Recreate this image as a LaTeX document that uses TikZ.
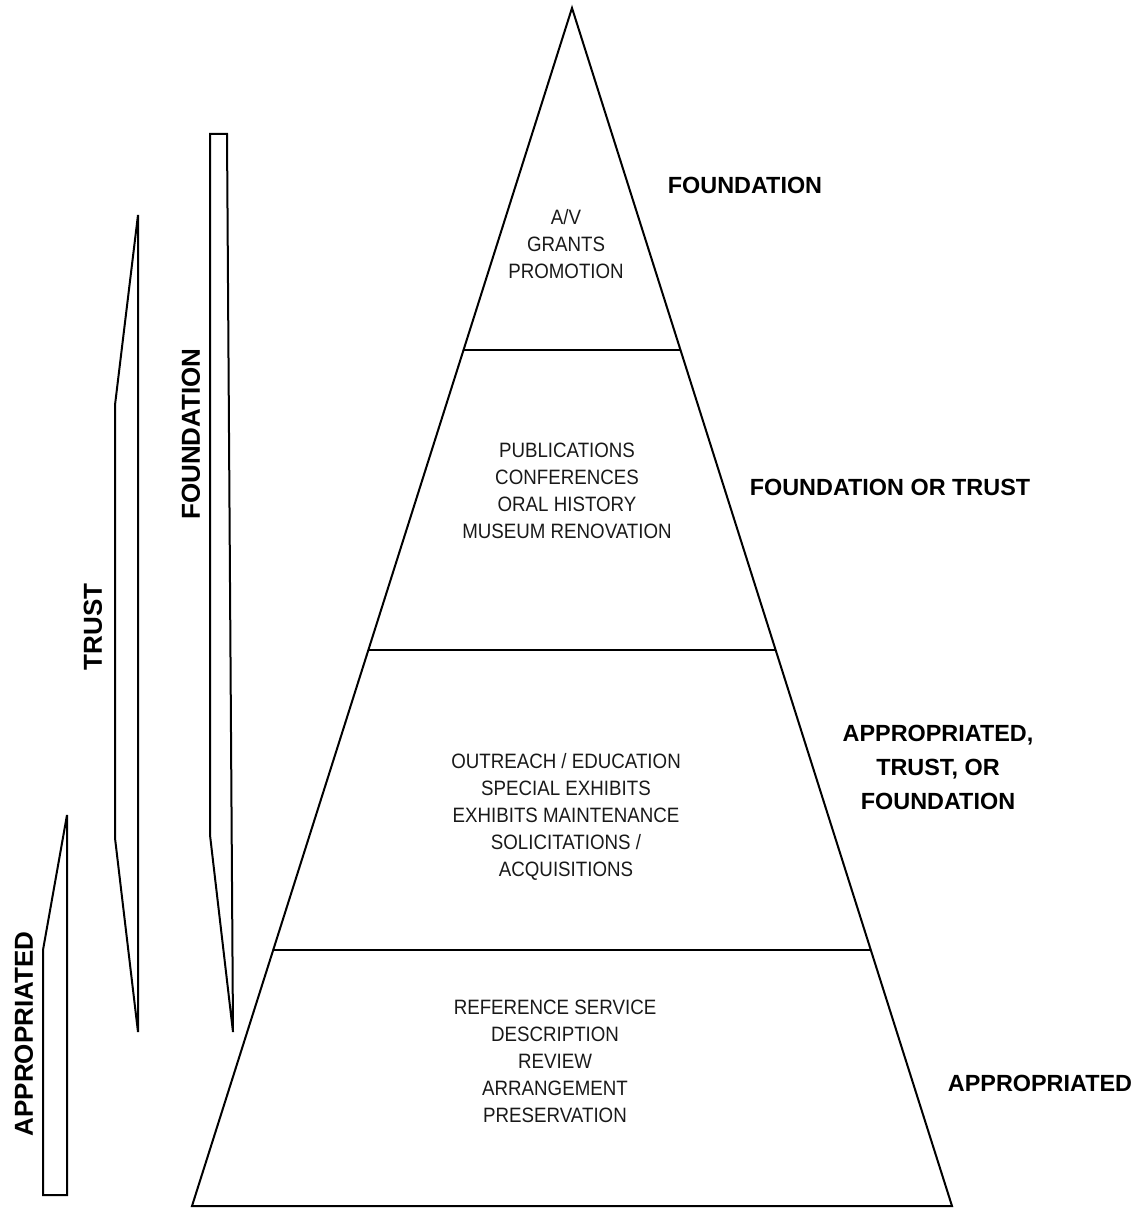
\documentclass[tikz,border=0pt]{standalone}
\usepackage{fontspec}
\setmainfont{Liberation Sans}

\begin{document}
\begin{tikzpicture}[x=0.5pt, y=-0.5pt, line width=1pt,
  tier/.style={font=\fontsize{10.4}{13.5}\selectfont, align=center, text=black!90, xscale=0.9},
  src/.style={font=\bfseries\fontsize{11.7}{17}\selectfont, align=center},
  barlabel/.style={font=\bfseries\fontsize{13}{15}\selectfont, rotate=90}]
\useasboundingbox (0,0) rectangle (1141,1208);
% pyramid
\draw (572,8) -- (952,1206) -- (192,1206) -- cycle;
\draw (463.5,350) -- (680.5,350);
\draw (368.4,650) -- (775.6,650);
\draw (273.2,950) -- (870.8,950);
% tier contents
\node[tier] (top) at (566,244) {A/V\\GRANTS\\PROMOTION};
\node[tier] (upper) at (567,490.5) {PUBLICATIONS\\CONFERENCES\\ORAL HISTORY\\MUSEUM RENOVATION};
\node[tier] (lower) at (566,817) {OUTREACH / EDUCATION\\SPECIAL EXHIBITS\\EXHIBITS MAINTENANCE\\SOLICITATIONS /\\ACQUISITIONS};
\node[tier] (base) at (555,1061) {REFERENCE SERVICE\\DESCRIPTION\\REVIEW\\ARRANGEMENT\\PRESERVATION};
% funding sources
\node[src] (srctop) at (745,185) {FOUNDATION};
\node[src] (srcupper) at (890,487) {FOUNDATION OR TRUST};
\node[src] (srclower) at (938,767) {APPROPRIATED,\\TRUST, OR\\FOUNDATION};
\node[src] (srcbase) at (1040,1083) {APPROPRIATED};
% side bars
\draw (67,815) -- (67,1195) -- (43,1195) -- (43,950) -- cycle;
\node[barlabel] (barappr) at (24,1034) {APPROPRIATED};
\draw (138,215) -- (138,1032) -- (115,838) -- (115,405) -- cycle;
\node[barlabel] (bartrust) at (93,627) {TRUST};
\draw (210,134) -- (227,134) -- (233,1032) -- (210,835) -- cycle;
\node[barlabel] (barfdn) at (191,434) {FOUNDATION};
\end{tikzpicture}
\end{document}
